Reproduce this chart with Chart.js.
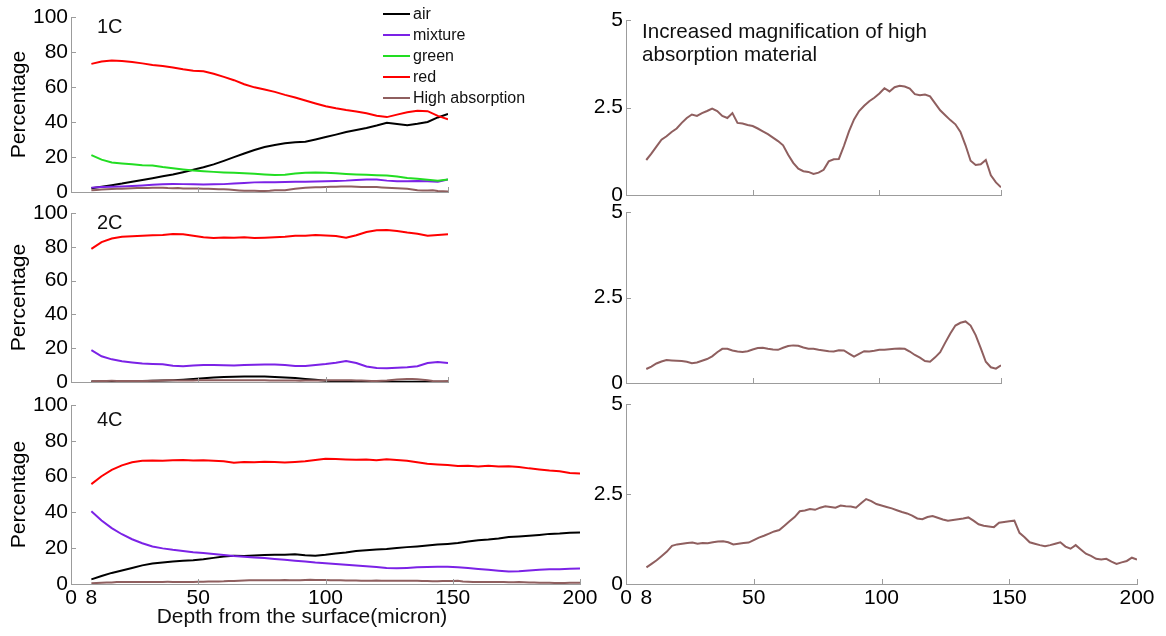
<!DOCTYPE html>
<html>
<head>
<meta charset="utf-8">
<script src="https://cdn.jsdelivr.net/npm/chart.js@4.4.1/dist/chart.umd.min.js"></script>
<style>
  html, body { margin: 0; padding: 0; background: #fff; }
  #fig { position: relative; width: 1166px; height: 636px; overflow: hidden; background: #fff; }
  #fig canvas { position: absolute; }
</style>
</head>
<body>
<div id="fig">
  <canvas id="p1C"></canvas>
  <canvas id="p2C"></canvas>
  <canvas id="p4C"></canvas>
  <canvas id="m1C"></canvas>
  <canvas id="m2C"></canvas>
  <canvas id="m4C"></canvas>
</div>
<script>
// depth (micron) sample positions
const depthShort = [8,12,16,20,24,28,32,36,40,44,48,52,56,60,64,68,72,76,80,84,88,92,96,100,104,108,112,116,120,124,128,132,136,140,144,148];
const depthLong = [8,12,16,20,24,28,32,36,40,44,48,52,56,60,64,68,72,76,80,84,88,92,96,100,104,108,112,116,120,124,128,132,136,140,144,148,152,156,160,164,168,172,176,180,184,188,192,196,200];
const depthShortFine = [8,10,12,14,16,18,20,22,24,26,28,30,32,34,36,38,40,42,44,46,48,50,52,54,56,58,60,62,64,66,68,70,72,74,76,78,80,82,84,86,88,90,92,94,96,98,100,102,104,106,108,110,112,114,116,118,120,122,124,126,128,130,132,134,136,138,140,142,144,146,148];
const depthLongFine = [8,10,12,14,16,18,20,22,24,26,28,30,32,34,36,38,40,42,44,46,48,50,52,54,56,58,60,62,64,66,68,70,72,74,76,78,80,82,84,86,88,90,92,94,96,98,100,102,104,106,108,110,112,114,116,118,120,122,124,126,128,130,132,134,136,138,140,142,144,146,148,150,152,154,156,158,160,162,164,166,168,170,172,174,176,178,180,182,184,186,188,190,192,194,196,198,200];

// tick labels
const pctTicks = [0, 20, 40, 60, 80, 100];
const magTicks = [0, 2.5, 5];
const depthTicks = [0, 8, 50, 100, 150, 200];
const depthMarksShort = [50, 100, 148];
const depthMarksLong = [50, 100, 150, 200];

// 1C (%)
const air1C = [2.1,3.0,3.9,4.8,5.9,6.9,7.9,9.0,10.0,11.3,12.7,14.1,15.8,17.8,19.9,22.0,24.0,25.7,26.9,27.8,28.4,28.7,30.0,31.4,32.8,34.3,35.4,36.6,38.0,39.6,38.9,38.2,39.0,40.0,42.6,44.6];
const mixture1C = [2.5,2.8,3.0,3.2,3.4,3.7,4.1,4.4,4.6,4.5,4.4,4.3,4.4,4.5,4.8,5.2,5.5,5.6,5.6,5.7,5.8,5.9,6.0,6.2,6.3,6.5,6.9,7.2,7.1,6.5,6.1,6.2,6.3,6.1,5.9,7.2];
const green1C = [21.1,18.5,16.9,16.3,15.8,15.3,15.2,14.3,13.6,12.9,12.3,11.9,11.5,11.2,11.0,10.7,10.4,10.0,9.7,9.9,10.6,11.0,11.2,11.0,10.7,10.3,10.0,9.8,9.6,9.4,8.8,8.0,7.6,7.0,6.4,7.2];
const red1C = [73.2,74.6,75.2,74.8,74.3,73.5,72.6,72.0,71.2,70.1,69.3,69.0,67.6,65.8,63.9,61.6,59.8,58.6,57.2,55.5,54.0,52.3,50.6,49.0,47.8,46.8,46.0,45.0,43.6,42.8,44.2,45.6,46.4,46.2,43.5,41.6];
const highAbs1C = [1.00,1.18,1.38,1.58,1.68,1.80,1.90,2.06,2.20,2.30,2.26,2.34,2.40,2.47,2.40,2.26,2.20,2.34,2.06,2.04,2.00,1.97,1.90,1.82,1.74,1.64,1.54,1.42,1.15,0.92,0.75,0.68,0.66,0.60,0.64,0.72,0.96,1.02,1.03,1.40,1.82,2.16,2.40,2.55,2.68,2.78,2.90,3.05,2.96,3.08,3.12,3.10,3.04,2.88,2.85,2.87,2.82,2.62,2.42,2.28,2.14,2.02,1.80,1.42,0.98,0.86,0.88,1.00,0.56,0.36,0.22];

// 2C (%)
const air2C = [0.3,0.3,0.3,0.4,0.5,0.6,0.7,0.9,1.1,1.4,1.8,2.2,2.6,2.9,3.1,3.2,3.3,3.2,3.0,2.7,2.3,1.8,1.3,0.8,0.4,0.2,0.1,0.1,0.1,0.1,0.1,0.1,0.1,0.1,0.1,0.1];
const mixture2C = [18.8,15.2,13.4,12.3,11.6,11.0,10.7,10.5,9.6,9.3,9.7,10.0,10.1,9.9,9.8,10.0,10.2,10.3,10.4,10.0,9.4,9.4,10.1,10.6,11.4,12.4,11.2,9.2,8.3,8.2,8.5,8.8,9.3,11.2,11.8,11.3];
const red2C = [78.8,82.8,84.9,85.9,86.2,86.6,86.8,87.0,87.6,87.4,86.6,85.6,85.2,85.5,85.3,85.6,85.2,85.4,85.7,86.0,86.5,86.6,87.0,86.7,86.4,85.4,86.8,88.8,89.8,89.9,89.3,88.4,87.7,86.6,87.0,87.4];
const highAbs2C = [0.41,0.48,0.57,0.63,0.67,0.66,0.65,0.64,0.62,0.58,0.60,0.65,0.70,0.78,0.90,1.00,1.00,0.95,0.92,0.91,0.93,0.98,1.02,1.03,1.00,0.98,0.97,1.03,1.08,1.10,1.09,1.04,1.00,1.00,0.97,0.95,0.93,0.92,0.96,0.95,0.86,0.77,0.85,0.93,0.92,0.94,0.97,0.97,0.99,1.00,1.01,1.00,0.92,0.82,0.74,0.64,0.62,0.75,0.90,1.18,1.45,1.68,1.76,1.80,1.68,1.40,1.02,0.62,0.46,0.42,0.52];

// 4C (%)
const air4C = [2.6,4.5,6.2,7.5,8.9,10.4,11.4,12.0,12.6,13.0,13.3,13.8,14.6,15.4,15.8,15.6,15.9,16.2,16.4,16.3,16.6,16.1,15.8,16.3,17.0,17.6,18.4,18.9,19.3,19.6,20.1,20.6,21.0,21.5,22.0,22.4,22.9,23.8,24.5,24.8,25.4,26.2,26.5,26.9,27.4,28.0,28.2,28.6,28.8];
const mixture4C = [40.6,35.5,31.2,27.8,25.0,22.8,21.0,19.9,19.1,18.5,17.8,17.3,16.8,16.2,15.6,15.2,14.8,14.5,14.0,13.5,13.0,12.6,12.0,11.6,11.2,10.7,10.3,9.9,9.5,9.0,8.8,9.0,9.3,9.5,9.6,9.7,9.4,8.9,8.4,7.9,7.4,7.0,7.1,7.6,8.0,8.2,8.3,8.5,8.6];
const red4C = [55.8,60.2,63.8,66.3,68.0,68.8,69.0,68.8,69.1,69.3,69.0,69.2,68.9,68.6,67.8,68.2,68.0,68.3,68.1,67.9,68.2,68.6,69.3,70.0,69.8,69.6,69.4,69.5,69.2,69.7,69.3,68.8,68.0,67.2,66.8,66.5,65.9,66.1,65.7,66.0,65.6,65.8,65.4,64.6,64.0,63.4,63.0,62.0,61.8];
const highAbs4C = [0.46,0.56,0.66,0.78,0.90,1.06,1.10,1.12,1.14,1.15,1.12,1.14,1.13,1.16,1.18,1.19,1.16,1.10,1.12,1.14,1.15,1.22,1.29,1.34,1.40,1.46,1.50,1.62,1.74,1.86,2.02,2.04,2.08,2.06,2.12,2.16,2.14,2.12,2.18,2.16,2.15,2.12,2.24,2.36,2.30,2.22,2.18,2.14,2.10,2.05,2.00,1.96,1.90,1.82,1.80,1.86,1.89,1.84,1.79,1.76,1.78,1.80,1.82,1.85,1.76,1.66,1.62,1.60,1.58,1.70,1.72,1.74,1.76,1.42,1.30,1.16,1.12,1.08,1.05,1.08,1.12,1.16,1.04,0.98,1.08,0.96,0.84,0.78,0.70,0.68,0.70,0.62,0.56,0.60,0.64,0.73,0.68];

const FONT = "'Liberation Sans', Arial, sans-serif";
const AXIS = '#9c9c9c';
const COLORS = { air: '#000000', mixture: '#7b22e6', green: '#22dd22', red: '#ff0000', high: '#8f5f5f' };

function series(label, color, xs, ys) {
  return {
    label: label,
    borderColor: color,
    backgroundColor: color,
    borderWidth: 2,
    pointRadius: 0,
    tension: 0,
    fill: false,
    data: xs.map((x, i) => ({ x: x, y: ys[i] }))
  };
}

// small tick marks drawn inside the axes
const inwardTicks = {
  id: 'inwardTicks',
  afterDraw(chart, args, opts) {
    const { ctx, chartArea: a, scales } = chart;
    ctx.save();
    ctx.strokeStyle = AXIS;
    ctx.lineWidth = 1;
    ctx.beginPath();
    (opts.x || []).forEach(v => {
      const px = Math.round(scales.x.getPixelForValue(v)) + 0.5;
      ctx.moveTo(px, a.bottom);
      ctx.lineTo(px, a.bottom - opts.len);
    });
    (opts.y || []).forEach(v => {
      const py = Math.round(scales.y.getPixelForValue(v)) + 0.5;
      ctx.moveTo(a.left, py);
      ctx.lineTo(a.left + opts.len, py);
    });
    ctx.stroke();
    ctx.restore();
  }
};

// free text placed relative to the plot area
const panelText = {
  id: 'panelText',
  afterDraw(chart, args, opts) {
    const { ctx, chartArea: a } = chart;
    (opts.items || []).forEach(it => {
      ctx.save();
      ctx.font = (it.size || 20) + 'px ' + FONT;
      ctx.fillStyle = '#111';
      ctx.textAlign = it.align || 'left';
      ctx.textBaseline = 'middle';
      const y = it.fromBottom !== undefined ? a.bottom + it.fromBottom : a.top + it.dy;
      ctx.fillText(it.text, a.left + it.dx, y);
      ctx.restore();
    });
  }
};

// stacked line key inside the first panel
const seriesKey = {
  id: 'seriesKey',
  afterDraw(chart, args, opts) {
    if (!opts.show) return;
    const { ctx, chartArea: a } = chart;
    ctx.save();
    ctx.font = '16px ' + FONT;
    ctx.textAlign = 'left';
    ctx.textBaseline = 'middle';
    chart.data.datasets.forEach((ds, i) => {
      const y = a.top + opts.dy + i * opts.gap;
      const x = a.left + opts.dx;
      ctx.strokeStyle = ds.borderColor;
      ctx.lineWidth = 2;
      ctx.beginPath();
      ctx.moveTo(x, y);
      ctx.lineTo(x + 27, y);
      ctx.stroke();
      ctx.fillStyle = '#111';
      ctx.fillText(ds.label, x + 30, y + 1);
    });
    ctx.restore();
  }
};

function panel(id, box, cfg) {
  const cv = document.getElementById(id);
  cv.width = box.w;
  cv.height = box.h;
  cv.style.left = box.left + 'px';
  cv.style.top = box.top + 'px';
  // later series sit on top
  cfg.datasets.forEach((ds, i) => { ds.order = cfg.datasets.length - i; });
  return new Chart(cv, {
    type: 'line',
    data: { datasets: cfg.datasets },
    options: {
      responsive: false,
      animation: false,
      events: [],
      layout: { padding: { top: box.padTop, right: box.padRight, left: 0, bottom: 0 } },
      plugins: {
        legend: { display: false },
        tooltip: { enabled: false },
        inwardTicks: { x: cfg.xMarks, y: cfg.yTicks.slice(1), len: 5 },
        panelText: { items: cfg.text },
        seriesKey: { show: !!cfg.key, dx: 312, dy: -3, gap: 21 }
      },
      scales: {
        x: {
          type: 'linear',
          min: 0,
          max: cfg.xMax,
          grid: { display: false, drawTicks: false },
          border: { display: true, color: AXIS, width: 1 },
          ticks: {
            display: cfg.xLabels,
            autoSkip: false,
            maxRotation: 0,
            padding: 2,
            color: '#000',
            font: { family: FONT, size: 21 }
          },
          afterBuildTicks: s => { s.ticks = depthTicks.filter(v => v <= cfg.xMax).map(v => ({ value: v })); },
          afterFit: s => { s.height = box.xh; s.paddingLeft = 0; s.paddingRight = 0; }
        },
        y: {
          min: 0,
          max: cfg.yMax,
          grid: { display: false, drawTicks: false },
          border: { display: true, color: AXIS, width: 1 },
          ticks: {
            autoSkip: false,
            padding: 3,
            color: '#000',
            font: { family: FONT, size: 21 }
          },
          afterBuildTicks: s => { s.ticks = cfg.yTicks.map(v => ({ value: v })); },
          afterFit: s => { s.width = box.yw; s.paddingTop = 0; s.paddingBottom = 0; },
          title: {
            display: !!cfg.yTitle,
            text: cfg.yTitle || '',
            color: '#000',
            font: { family: FONT, size: 21 },
            padding: { top: 7, bottom: 0 }
          }
        }
      }
    },
    plugins: [inwardTicks, panelText, seriesKey]
  });
}

// left column: composition in percent
panel('p1C', { left: 0, top: 4, w: 560, h: 202, padTop: 13, padRight: 112, xh: 14, yw: 71 }, {
  datasets: [
    series('air', COLORS.air, depthShort, air1C),
    series('mixture', COLORS.mixture, depthShort, mixture1C),
    series('green', COLORS.green, depthShort, green1C),
    series('red', COLORS.red, depthShort, red1C),
    series('High absorption', COLORS.high, depthShortFine, highAbs1C)
  ],
  xMax: 148, xLabels: false, xMarks: depthMarksShort,
  yMax: 100, yTicks: pctTicks, yTitle: 'Percentage',
  key: true,
  text: [{ text: '1C', dx: 26, dy: 10 }]
});

panel('p2C', { left: 0, top: 200, w: 470, h: 196, padTop: 13, padRight: 22, xh: 14, yw: 71 }, {
  datasets: [
    series('air', COLORS.air, depthShort, air2C),
    series('mixture', COLORS.mixture, depthShort, mixture2C),
    series('red', COLORS.red, depthShort, red2C),
    series('High absorption', COLORS.high, depthShortFine, highAbs2C)
  ],
  xMax: 148, xLabels: false, xMarks: depthMarksShort,
  yMax: 100, yTicks: pctTicks, yTitle: 'Percentage',
  text: [{ text: '2C', dx: 26, dy: 10 }]
});

panel('p4C', { left: 0, top: 392, w: 610, h: 244, padTop: 13, padRight: 30, xh: 52, yw: 71 }, {
  datasets: [
    series('air', COLORS.air, depthLong, air4C),
    series('mixture', COLORS.mixture, depthLong, mixture4C),
    series('red', COLORS.red, depthLong, red4C),
    series('High absorption', COLORS.high, depthLongFine, highAbs4C)
  ],
  xMax: 200, xLabels: true, xMarks: depthMarksLong,
  yMax: 100, yTicks: pctTicks, yTitle: 'Percentage',
  text: [
    { text: '4C', dx: 26, dy: 15 },
    { text: 'Depth from the surface(micron)', dx: 231, fromBottom: 33, align: 'center', size: 21 }
  ]
});

// right column: high absorption material, enlarged scale
panel('m1C', { left: 560, top: 7, w: 460, h: 202, padTop: 13, padRight: 19, xh: 14, yw: 66 }, {
  datasets: [series('High absorption', COLORS.high, depthShortFine, highAbs1C)],
  xMax: 148, xLabels: false, xMarks: depthMarksShort,
  yMax: 5, yTicks: magTicks,
  text: [
    { text: 'Increased magnification of high', dx: 16, dy: 12, size: 20.6 },
    { text: 'absorption material', dx: 16, dy: 35, size: 20.6 }
  ]
});

panel('m2C', { left: 560, top: 199, w: 460, h: 198, padTop: 13, padRight: 19, xh: 14, yw: 66 }, {
  datasets: [series('High absorption', COLORS.high, depthShortFine, highAbs2C)],
  xMax: 148, xLabels: false, xMarks: depthMarksShort,
  yMax: 5, yTicks: magTicks,
  text: []
});

panel('m4C', { left: 560, top: 391, w: 606, h: 245, padTop: 13, padRight: 29, xh: 52, yw: 66 }, {
  datasets: [series('High absorption', COLORS.high, depthLongFine, highAbs4C)],
  xMax: 200, xLabels: true, xMarks: depthMarksLong,
  yMax: 5, yTicks: magTicks,
  text: []
});
</script>
</body>
</html>
